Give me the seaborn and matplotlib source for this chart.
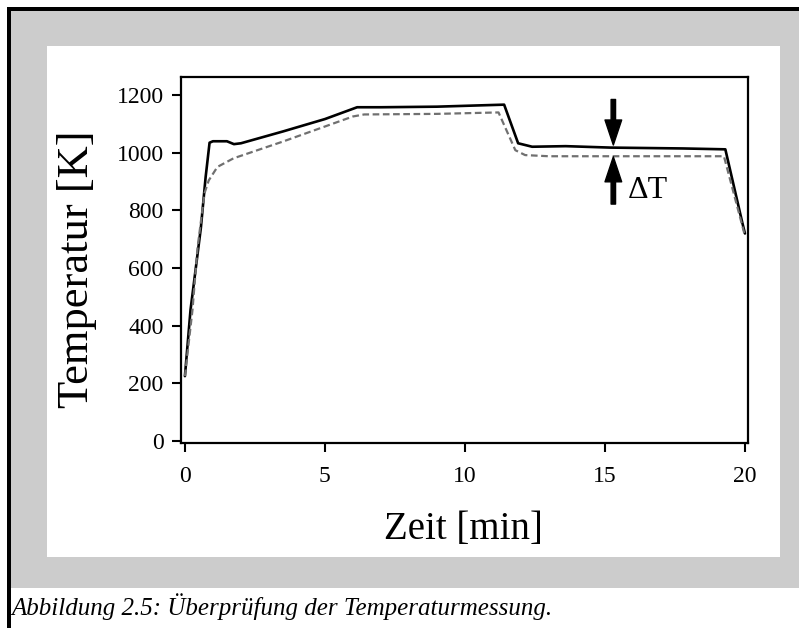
import matplotlib
matplotlib.use("Agg")
import matplotlib.pyplot as plt
from matplotlib.patches import Rectangle
import seaborn as sns
import pandas as pd

# ---- data ----
t_thermo = [0, 0.2, 0.57, 0.74, 0.88, 1.0, 1.5, 1.75, 2.0, 3.5, 5.0, 6.15, 7.0, 9.0,
            10.7, 11.4, 11.9, 12.4, 13.6, 15.2, 17.8, 19.3, 19.9, 20.0]
T_thermo = [225, 455, 740, 916, 1035, 1040, 1040, 1030, 1033, 1074, 1117, 1158, 1158, 1160,
            1165, 1167, 1033, 1021, 1023, 1018, 1015, 1012, 760, 720]

t_ref = [0, 0.27, 0.45, 0.7, 0.85, 1.16, 1.74, 3.5, 6.0, 6.4, 9.0, 11.2, 11.8, 12.15,
         13.0, 15.0, 19.25, 20.0]
T_ref = [225, 455, 670, 860, 904, 951, 981, 1039, 1126, 1133, 1135, 1140, 1009, 992,
         988, 988, 988, 712]

x_ticks = [0, 5, 10, 15, 20]
y_ticks = [0, 200, 400, 600, 800, 1000, 1200]
x_label = "Zeit [min]"
y_label = "Temperatur [K]"
delta_label = "ΔT"
caption = "Abbildung 2.5: Überprüfung der Temperaturmessung."

df_thermo = pd.DataFrame({"t": t_thermo, "T": T_thermo})
df_ref = pd.DataFrame({"t": t_ref, "T": T_ref})

sns.set_style("ticks")
plt.rcParams["font.family"] = ["Liberation Serif", "DejaVu Serif"]
plt.rcParams["text.color"] = "black"
plt.rcParams["axes.labelcolor"] = "black"
plt.rcParams["xtick.color"] = "black"
plt.rcParams["ytick.color"] = "black"

W, H = 799, 628
fig = plt.figure(figsize=(W / 100, H / 100), dpi=100)
fig.patch.set_facecolor("white")

def px_rect(x0, y0, x1, y1, color):
    fig.patches.append(Rectangle((x0 / W, 1 - y1 / H), (x1 - x0) / W, (y1 - y0) / H,
                                 transform=fig.transFigure, facecolor=color,
                                 edgecolor="none", zorder=-10))

px_rect(11, 11, W, 588, "#cccccc")
px_rect(47, 46, 780, 557, "white")
px_rect(7, 7, 11, H, "black")
px_rect(7, 7, W, 11, "black")

ax = fig.add_axes([181 / W, 1 - 443.3 / H, (748.3 - 181) / W, (443.3 - 76.7) / H])
ax.set_facecolor("white")

sns.lineplot(data=df_thermo, x="t", y="T", ax=ax, color="black", linewidth=1.9,
             sort=False, estimator=None)
sns.lineplot(data=df_ref, x="t", y="T", ax=ax, color="#707070", linewidth=1.6,
             linestyle=(0, (3, 1.6)), sort=False, estimator=None)

ax.set_xlim(-0.14, 20.12)
ax.set_ylim(-8, 1264)
ax.set_xticks(x_ticks)
ax.set_yticks(y_ticks)
ax.tick_params(direction="out", length=6.5, width=1.5, labelsize=17,
               colors="black", labelcolor="black")
ax.tick_params(axis="x", pad=10)
ax.tick_params(axis="y", pad=6)
for s in ax.spines.values():
    s.set_visible(True)
    s.set_linewidth(1.6)
    s.set_color("black")

ax.set_xlabel(x_label, fontsize=28, va="center", color="black")
ax.set_ylabel(y_label, fontsize=32, va="center", color="black")
ax.xaxis.set_label_coords(0.4985, (443.3 - 530) / 366.6)
ax.yaxis.set_label_coords((77 - 181) / 567.3, 0.475)

# delta T arrows
ax.annotate("", xy=(15.3, 1027), xytext=(15.3, 1185),
            arrowprops=dict(facecolor="black", edgecolor="black", width=3.2,
                            headwidth=12, headlength=18, shrink=0))
ax.annotate("", xy=(15.3, 986), xytext=(15.3, 822),
            arrowprops=dict(facecolor="black", edgecolor="black", width=3.2,
                            headwidth=12, headlength=18, shrink=0))
ax.text(15.8, 870, delta_label, fontsize=23, va="center", ha="left", color="black")

fig.text(11 / W, 1 - 615 / H, caption, fontsize=18, style="italic",
         va="baseline", ha="left", color="black")

fig.savefig("out.png", dpi=100)
